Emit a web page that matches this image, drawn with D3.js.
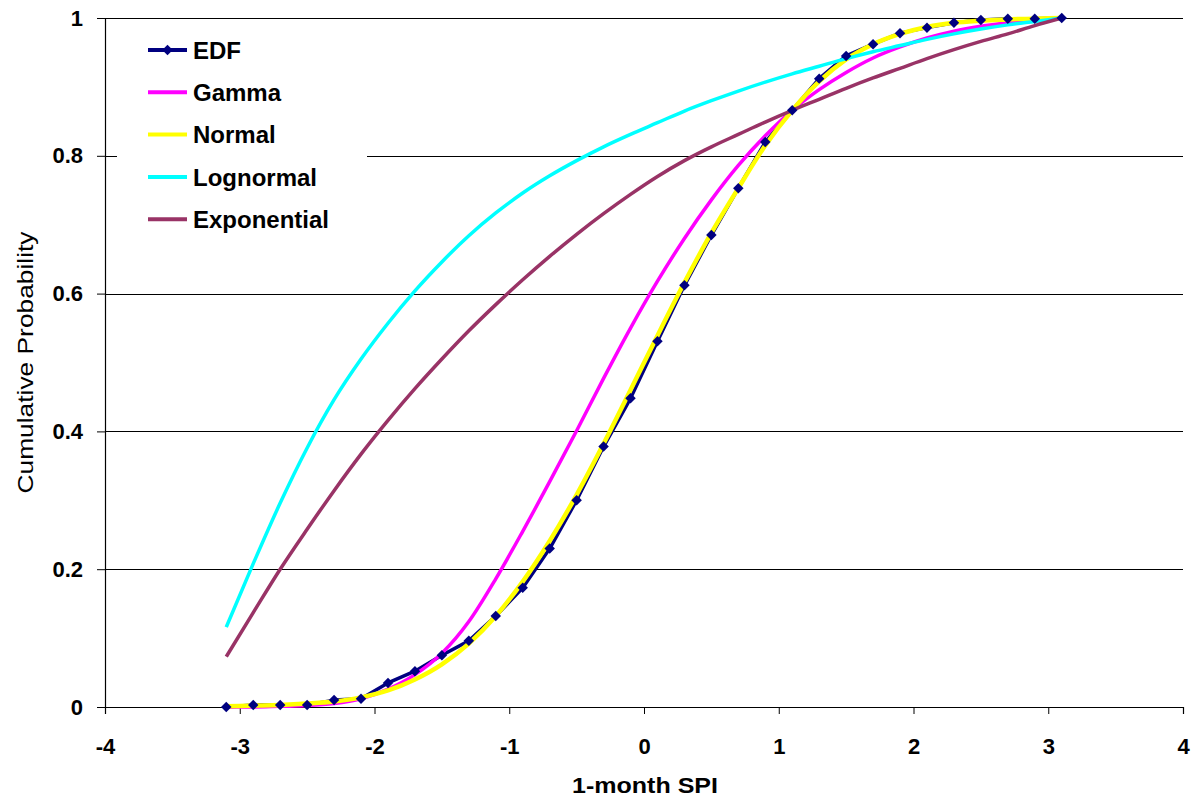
<!DOCTYPE html>
<html>
<head>
<meta charset="utf-8">
<script src="https://cdn.jsdelivr.net/npm/d3@7"></script>
<style>
  body { margin: 0; background: #fff; }
  svg { font-family: Arial, "Liberation Sans", sans-serif; }
</style>
</head>
<body>
<div id="chart"></div>
<script>
// SPI values where every series was sampled
var spi = [-3.1, -2.9, -2.7, -2.5, -2.3, -2.1, -1.9, -1.7, -1.5, -1.3, -1.1, -0.9, -0.7, -0.5, -0.3, -0.1,
           0.1, 0.3, 0.5, 0.7, 0.9, 1.1, 1.3, 1.5, 1.7, 1.9, 2.1, 2.3, 2.5, 2.7, 2.9, 3.1];

var edf = [0, 0.003, 0.003, 0.003, 0.010, 0.012, 0.035, 0.052, 0.075, 0.096, 0.132, 0.173, 0.230, 0.300, 0.378, 0.448,
           0.531, 0.612, 0.685, 0.753, 0.820, 0.866, 0.912, 0.945, 0.962, 0.978, 0.986, 0.993, 0.997, 0.999, 0.999, 1.0];

var gamma = [0, 0, 0.001, 0.002, 0.005, 0.012, 0.026, 0.047, 0.078, 0.124, 0.186, 0.255, 0.327, 0.401, 0.477, 0.550,
             0.618, 0.680, 0.736, 0.786, 0.829, 0.866, 0.896, 0.921, 0.942, 0.958, 0.971, 0.981, 0.988, 0.993, 0.997, 1.0];

var normal = [0.001, 0.002, 0.003, 0.005, 0.008, 0.014, 0.024, 0.040, 0.062, 0.092, 0.132, 0.182, 0.241, 0.308, 0.382, 0.460,
              0.539, 0.616, 0.688, 0.753, 0.815, 0.866, 0.908, 0.940, 0.962, 0.977, 0.987, 0.993, 0.996, 0.998, 0.999, 1.0];

var lognormal = [0.116, 0.208, 0.296, 0.376, 0.446, 0.505, 0.557, 0.604, 0.646, 0.684, 0.717, 0.746, 0.771, 0.793, 0.813, 0.831,
                 0.848, 0.865, 0.880, 0.894, 0.907, 0.919, 0.930, 0.941, 0.951, 0.960, 0.969, 0.977, 0.984, 0.990, 0.995, 1.0];

var exponential = [0.073, 0.137, 0.200, 0.258, 0.314, 0.367, 0.416, 0.462, 0.505, 0.546, 0.584, 0.620, 0.654, 0.686, 0.716, 0.744,
                   0.770, 0.793, 0.813, 0.831, 0.849, 0.866, 0.882, 0.898, 0.913, 0.927, 0.941, 0.954, 0.966, 0.977, 0.989, 1.0];

var seriesNames = ["EDF", "Gamma", "Normal", "Lognormal", "Exponential"];
var seriesColors = ["#000080", "#FF00FF", "#FFFF00", "#00FFFF", "#993366"];
var xTicks = [-4, -3, -2, -1, 0, 1, 2, 3, 4];
var yTicks = [0, 0.2, 0.4, 0.6, 0.8, 1];

var W = 1196, H = 799;
var margin = {top: 18, right: 13, bottom: 92, left: 105};
var width = W - margin.left - margin.right,
    height = H - margin.top - margin.bottom;

var svg = d3.select("#chart")
  .append("svg")
    .attr("width", W)
    .attr("height", H)
  .append("g")
    .attr("transform", "translate(" + margin.left + "," + margin.top + ")");

var x = d3.scaleLinear().domain([-4, 4]).range([0, width]);
var y = d3.scaleLinear().domain([0, 1]).range([height, 0]);

// horizontal grid lines
svg.append("g")
  .selectAll("line")
  .data(yTicks.slice(1))
  .enter().append("line")
    .attr("x1", 0)
    .attr("x2", width)
    .attr("y1", function(d) { return Math.round(y(d)) + 0.5; })
    .attr("y2", function(d) { return Math.round(y(d)) + 0.5; })
    .attr("stroke", "#000")
    .attr("stroke-width", 1);

// axes (hyphen minus like the original, not the unicode minus)
var xAxis = svg.append("g")
  .attr("transform", "translate(0," + height + ")")
  .call(d3.axisBottom(x).tickValues(xTicks).tickSize(7).tickPadding(24).tickFormat(function(d) { return String(d); }));
var yAxis = svg.append("g")
  .call(d3.axisLeft(y).tickValues(yTicks).tickSize(8).tickPadding(14).tickFormat(function(d) { return String(d); }));

[xAxis, yAxis].forEach(function(a) {
  a.select(".domain").attr("stroke", "#000").attr("stroke-width", 1.2);
  a.selectAll(".tick line").attr("stroke", "#000");
  a.selectAll(".tick text")
    .attr("fill", "#000")
    .style("font-family", "Arial, 'Liberation Sans', sans-serif")
    .style("font-size", "22px")
    .style("font-weight", "bold");
});

// axis titles
svg.append("text")
  .attr("x", x(0) - 72)
  .attr("y", height + 86)
  .attr("textLength", 146)
  .attr("lengthAdjust", "spacingAndGlyphs")
  .style("font-size", "22px")
  .style("font-weight", "bold")
  .text("1-month SPI");

svg.append("text")
  .attr("transform", "rotate(-90)")
  .attr("x", -(y(0.5)) - 131)
  .attr("y", -72)
  .attr("textLength", 262)
  .attr("lengthAdjust", "spacingAndGlyphs")
  .style("font-size", "22px")
  .text("Cumulative Probability");

// legend background (hides the grid line behind it)
svg.append("rect")
  .attr("x", 12)
  .attr("y", 10)
  .attr("width", 250)
  .attr("height", 215)
  .attr("fill", "#fff");

// lines
var allValues = [edf, gamma, normal, lognormal, exponential];
var lineWidths = [3.5, 3.5, 4.5, 3.5, 3.5];

allValues.forEach(function(vals, i) {
  var pts = spi.map(function(s, j) { return [s, vals[j]]; });
  var line = d3.line()
    .x(function(d) { return x(d[0]); })
    .y(function(d) { return y(d[1]); })
    .curve(i === 0 ? d3.curveLinear : d3.curveMonotoneX);
  svg.append("path")
    .datum(pts)
    .attr("fill", "none")
    .attr("stroke", seriesColors[i])
    .attr("stroke-width", lineWidths[i])
    .attr("stroke-linejoin", "round")
    .attr("d", line);
});

// EDF markers
var diamond = d3.symbol().type(d3.symbolDiamond2).size(70);
svg.append("g")
  .selectAll("path")
  .data(spi.map(function(s, j) { return [s, edf[j]]; }))
  .enter().append("path")
    .attr("d", diamond)
    .attr("transform", function(d) { return "translate(" + x(d[0]) + "," + y(d[1]) + ")"; })
    .attr("fill", "#000080");

// legend
var legend = svg.selectAll(".legend")
  .data(seriesNames)
  .enter().append("g")
    .attr("class", "legend")
    .attr("transform", function(d, i) { return "translate(0," + (32 + i * 42.3) + ")"; });

legend.append("line")
  .attr("x1", 43)
  .attr("x2", 82)
  .attr("stroke", function(d, i) { return seriesColors[i]; })
  .attr("stroke-width", 4);

legend.filter(function(d) { return d === "EDF"; })
  .append("path")
  .attr("d", diamond)
  .attr("transform", "translate(62.5,0)")
  .attr("fill", "#000080");

legend.append("text")
  .attr("x", 88)
  .attr("dy", "0.36em")
  .style("font-size", "24px")
  .style("font-weight", "bold")
  .text(function(d) { return d; });
</script>
</body>
</html>
